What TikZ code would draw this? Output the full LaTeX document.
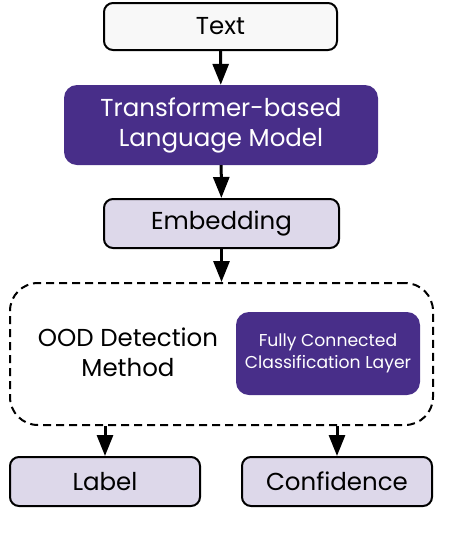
\documentclass[tikz,border=0pt]{standalone}
\usepackage{fontspec}
\setmainfont{Poppins}
\usepackage{tikz}
\usetikzlibrary{shapes,arrows.meta,positioning}
\definecolor{morado}{HTML}{482E89}
\definecolor{lila}{HTML}{DDD8EA}
\definecolor{blanco}{HTML}{F8F8F8}
\tikzstyle{cajablanca} = [draw=black, fill=blanco, line width=2pt, rectangle, rounded corners=9pt, font=\fontsize{24.5}{29}\selectfont]
\tikzstyle{cajalila} = [draw=black, fill=lila, line width=2pt, rectangle, rounded corners=9pt, font=\fontsize{24.5}{29}\selectfont]
\tikzstyle{cajamorada} = [fill=morado, text=white, rectangle, rounded corners=13pt, align=center]
\tikzstyle{marco} = [draw=black, dashed, dash pattern=on 8pt off 5pt, line width=2pt, rectangle, rounded corners=28pt]
\tikzstyle{flecha} = [line width=3pt, -{Triangle[width=16pt,length=21pt]}]

\begin{document}
\begin{tikzpicture}[x=1pt,y=-1pt]
	\useasboundingbox (0,0) rectangle (468,542);
	\node [cajablanca, minimum width=233pt, minimum height=47pt] (text) at (220.5,26.5) {Text};
	\node [cajamorada, minimum width=314pt, minimum height=80pt, font=\fontsize{24.5}{30}\selectfont] (tlm) at (221,125) {Transformer-based\\Language Model};
	\node [cajalila, minimum width=235pt, minimum height=49pt] (emb) at (221.5,223.5) {Embedding};
	\node [marco, minimum width=423pt, minimum height=142pt] (ood) at (221.5,354) {};
	\node [font=\fontsize{24.5}{30}\selectfont, align=center] (oodtxt) at (128,352) {OOD Detection\\Method};
	\node [cajamorada, minimum width=184pt, minimum height=83pt, font=\fontsize{17.2}{21.5}\selectfont] (fc) at (328,353.5) {Fully Connected\\Classification Layer};
	\node [cajalila, minimum width=190pt, minimum height=49pt] (label) at (105,481.5) {Label};
	\node [cajalila, minimum width=190pt, minimum height=49pt] (conf) at (337,481.5) {Confidence};

	\draw [flecha] (text) -- (tlm);
	\draw [flecha] (tlm) -- (emb);
	\draw [flecha] (emb) -- (ood);
	\draw [flecha] (ood.south -| label.north) -- (label);
	\draw [flecha] (ood.south -| conf.north) -- (conf);
\end{tikzpicture}
\end{document}
